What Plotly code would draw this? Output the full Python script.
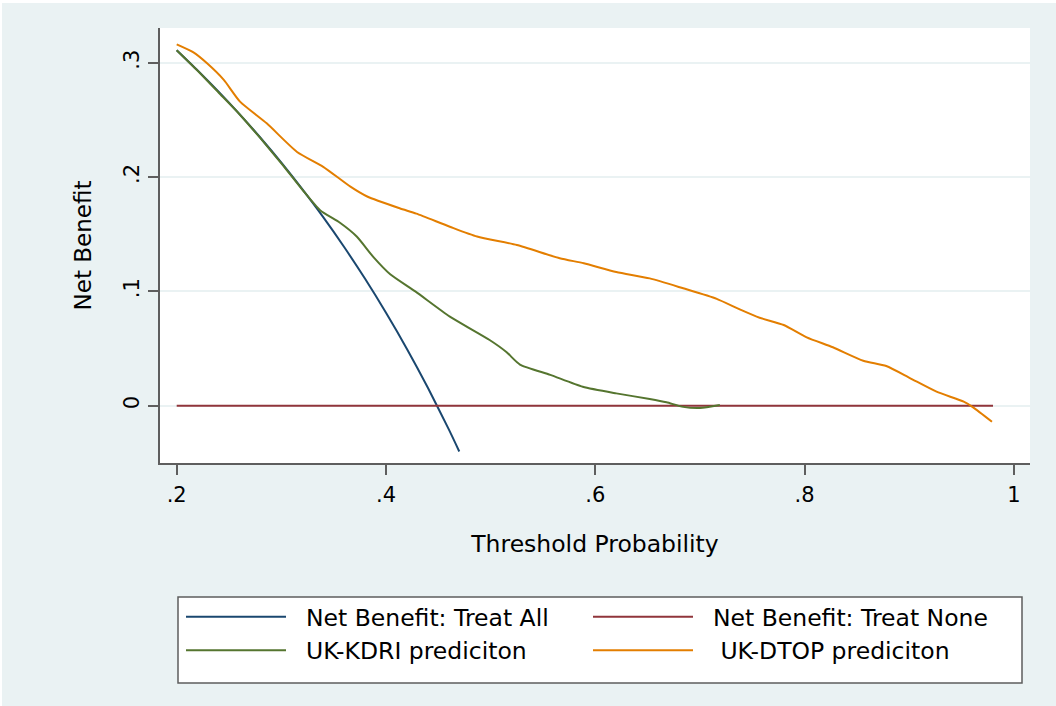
import plotly.graph_objects as go

# Threshold probabilities and net benefit for each strategy
treat_all_x = [0.20, 0.22, 0.24, 0.26, 0.28, 0.30, 0.32, 0.34, 0.36, 0.38, 0.40, 0.42, 0.44, 0.46, 0.47]
treat_all_y = [0.311, 0.2933, 0.2747, 0.2551, 0.2344, 0.2126, 0.1894, 0.1649, 0.1388, 0.1110, 0.0813, 0.0497, 0.0157, -0.0207, -0.0400]

treat_none_x = [0.20, 0.98]
treat_none_y = [0.0, 0.0]

kdri_x = [0.200, 0.220, 0.240, 0.260, 0.280, 0.300, 0.320, 0.337, 0.356, 0.372, 0.388, 0.404,
          0.428, 0.461, 0.499, 0.515, 0.528, 0.557, 0.588, 0.620, 0.652, 0.668, 0.684, 0.700, 0.719]
kdri_y = [0.311, 0.293, 0.274, 0.255, 0.234, 0.212, 0.189, 0.171, 0.160, 0.148, 0.130, 0.115,
          0.100, 0.078, 0.0575, 0.047, 0.036, 0.027, 0.0166, 0.0108, 0.0059, 0.003, -0.001, -0.002, 0.0006]

dtop_x = [0.200, 0.216, 0.229, 0.245, 0.2605, 0.286, 0.315, 0.340, 0.366, 0.382, 0.413, 0.429,
          0.461, 0.487, 0.525, 0.566, 0.589, 0.620, 0.652, 0.684, 0.716, 0.738, 0.757, 0.780,
          0.802, 0.827, 0.856, 0.878, 0.901, 0.926, 0.952, 0.961, 0.979]
dtop_y = [0.316, 0.309, 0.2995, 0.285, 0.266, 0.247, 0.222, 0.209, 0.1916, 0.183, 0.1727, 0.168,
          0.1566, 0.148, 0.1406, 0.129, 0.1246, 0.117, 0.1114, 0.1027, 0.0935, 0.0843, 0.077, 0.0706,
          0.0598, 0.0511, 0.0394, 0.0347, 0.0240, 0.0123, 0.0035, -0.0014, -0.014]

x_ticks = [0.2, 0.4, 0.6, 0.8, 1.0]
x_tick_labels = [".2", ".4", ".6", ".8", "1"]
y_ticks = [0.0, 0.1, 0.2, 0.3]
y_tick_labels = ["0", ".1", ".2", ".3"]

FONT = "DejaVu Sans"
BG = "#eaf2f3"
AXIS = "#5e5e5e"
GAP = "\u00a0\u00a0"  # keeps legend text clear of the line samples

fig = go.Figure()
series = [
    ("Net Benefit: Treat All", treat_all_x, treat_all_y, "#1a476f"),
    ("Net Benefit: Treat None", treat_none_x, treat_none_y, "#90353b"),
    ("UK-KDRI prediciton", kdri_x, kdri_y, "#55752f"),
    ("\u00a0UK-DTOP prediciton", dtop_x, dtop_y, "#e37e00"),
]
for name, xs, ys, col in series:
    fig.add_trace(go.Scatter(
        x=xs, y=ys, mode="lines", name=GAP + name,
        line=dict(color=col, width=2, shape="spline", smoothing=0.6),
    ))

W, H = 1056, 706
ML, MR, MT, MB = 160, 26, 28, 243
pw, ph = W - ML - MR, H - MT - MB

def px_x(p):
    return (p - ML) / pw

def px_y(p):
    return (H - MB - p) / ph

shapes = [
    # thin white frame on the top and left edges of the canvas
    dict(type="rect", xref="paper", yref="paper", layer="below",
         x0=px_x(0), x1=px_x(2), y0=px_y(H), y1=px_y(0), fillcolor="white", line=dict(width=0)),
    dict(type="rect", xref="paper", yref="paper", layer="below",
         x0=px_x(0), x1=px_x(W), y0=px_y(3), y1=px_y(0), fillcolor="white", line=dict(width=0)),
    # framed white panel behind the legend entries
    dict(type="rect", xref="paper", yref="paper", layer="above",
         x0=px_x(178), x1=px_x(1022), y0=px_y(683), y1=px_y(597),
         fillcolor="white", line=dict(color=AXIS, width=1.5)),
]

fig.update_layout(
    width=W, height=H,
    margin=dict(l=ML, r=MR, t=MT, b=MB, autoexpand=False),
    paper_bgcolor=BG, plot_bgcolor="white",
    font=dict(family=FONT, color="black"),
    shapes=shapes,
    showlegend=True,
    legend=dict(
        orientation="h", x=px_x(181), y=px_y(595), xanchor="left", yanchor="top",
        bgcolor="rgba(0,0,0,0)", borderwidth=0,
        font=dict(family=FONT, size=23.5, color="black"),
        itemwidth=100, entrywidth=292, entrywidthmode="pixels",
        traceorder="normal",
    ),
    xaxis=dict(
        range=[0.18404, 1.01534], tickvals=x_ticks, ticktext=x_tick_labels,
        ticks="outside", ticklen=10, tickwidth=1.5, tickcolor=AXIS,
        showline=True, linecolor=AXIS, linewidth=1.5, showgrid=False, zeroline=False,
        tickfont=dict(size=21, family=FONT), ticklabelstandoff=2,
        title=dict(text="Threshold Probability", font=dict(size=23.5, family=FONT), standoff=30),
        automargin=False,
    ),
    yaxis=dict(
        range=[-0.0501, 0.3304], tickvals=y_ticks, ticktext=y_tick_labels,
        ticks="outside", ticklen=10, tickwidth=1.5, tickcolor=AXIS, tickangle=-90,
        showline=True, linecolor=AXIS, linewidth=1.5,
        showgrid=True, gridcolor=BG, gridwidth=2, zeroline=False,
        tickfont=dict(size=21, family=FONT), ticklabelstandoff=1,
        title=dict(text="Net Benefit", font=dict(size=23, family=FONT), standoff=22),
        automargin=False,
    ),
)

fig.write_html("out.html")
